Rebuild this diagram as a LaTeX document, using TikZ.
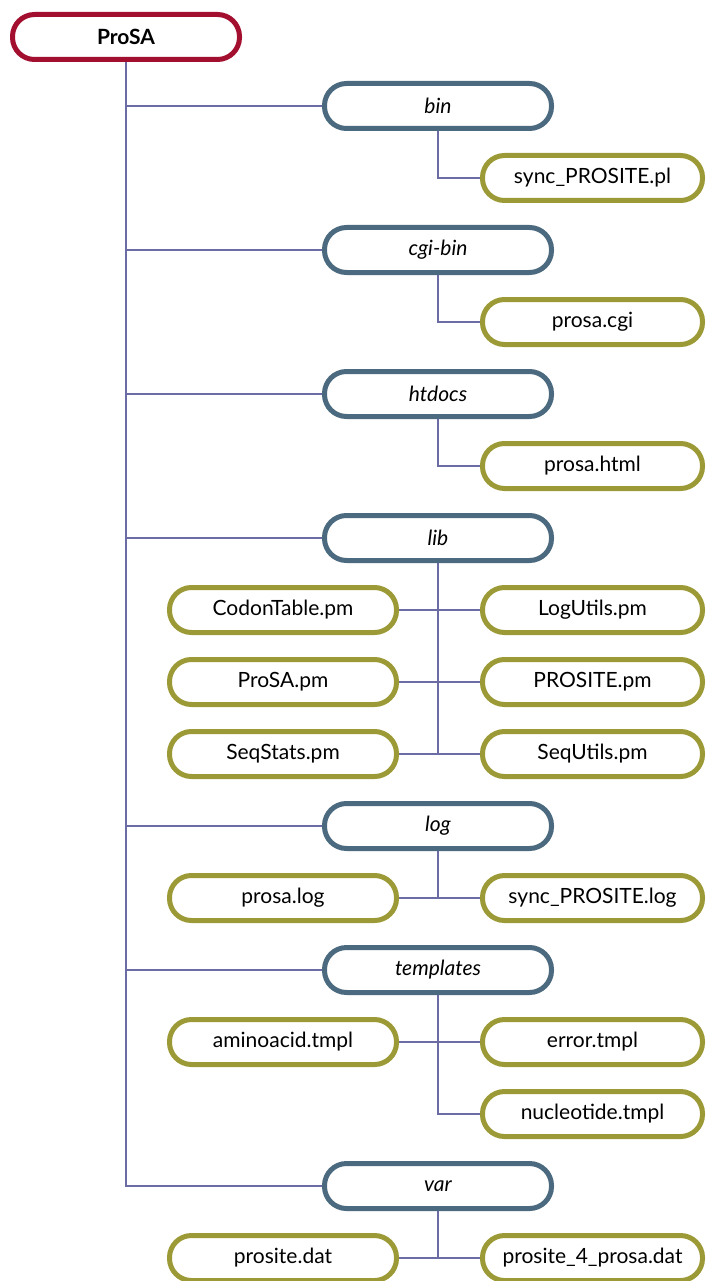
\documentclass[tikz,border=0pt]{standalone}
\usepackage{fontspec}
\setmainfont{Lato}
\usetikzlibrary{backgrounds}
\definecolor{rootc}{HTML}{A30F2F}
\definecolor{dirc}{HTML}{4B6A7F}
\definecolor{filec}{HTML}{9C9A36}
\definecolor{linec}{HTML}{6B6BA6}
\tikzset{
  pill/.style={draw, line width=5pt, fill=white, rounded corners=22pt,
    minimum width=227pt, minimum height=45pt, inner sep=0pt, font=\fontsize{21}{24}\selectfont},
  rootbox/.style={pill, draw=rootc, font=\fontsize{21}{24}\selectfont\bfseries},
  dirbox/.style={pill, draw=dirc, font=\fontsize{21}{24}\selectfont\itshape},
  filebox/.style={pill, draw=filec},
  rfilebox/.style={filebox, minimum width=220pt},
  conn/.style={draw=linec, line width=2pt}
}
\begin{document}
\begin{tikzpicture}[x=1pt,y=-1pt]
\useasboundingbox (0,0) rectangle (705,1281);
\node[rootbox] (prosa) at (126,37) {ProSA};
\node[dirbox] (bin) at (438,106) {bin};
\node[rfilebox] (sync) at (592.5,178) {sync\_PROSITE.pl};
\node[dirbox] (cgibin) at (438,250) {cgi-bin};
\node[rfilebox] (cgi) at (592.5,322) {prosa.cgi};
\node[dirbox] (htdocs) at (438,394) {htdocs};
\node[rfilebox] (html) at (592.5,466) {prosa.html};
\node[dirbox] (lib) at (438,538) {lib};
\node[filebox] (codon) at (283,610) {CodonTable.pm};
\node[rfilebox] (logutils) at (592.5,610) {LogUtils.pm};
\node[filebox] (prosapm) at (283,682) {ProSA.pm};
\node[rfilebox] (prositepm) at (592.5,682) {PROSITE.pm};
\node[filebox] (seqstats) at (283,754) {SeqStats.pm};
\node[rfilebox] (sequtils) at (592.5,754) {SeqUtils.pm};
\node[dirbox] (log) at (438,826) {log};
\node[filebox] (prosalog) at (283,898) {prosa.log};
\node[rfilebox] (synclog) at (592.5,898) {sync\_PROSITE.log};
\node[dirbox] (templates) at (438,970) {templates};
\node[filebox] (amino) at (283,1042) {aminoacid.tmpl};
\node[rfilebox] (error) at (592.5,1042) {error.tmpl};
\node[rfilebox] (nucleo) at (592.5,1114) {nucleotide.tmpl};
\node[dirbox] (var) at (438,1186) {var};
\node[filebox] (prositedat) at (283,1258) {prosite.dat};
\node[rfilebox] (prosite4) at (592.5,1258) {prosite\_4\_prosa.dat};
\begin{scope}[on background layer]
\draw[conn] (prosa.south) |- (var.west);
\foreach \d in {bin,cgibin,htdocs,lib,log,templates}
  \draw[conn] (prosa.south |- \d.west) -- (\d.west);
\draw[conn] (bin.south) |- (sync.west);
\draw[conn] (cgibin.south) |- (cgi.west);
\draw[conn] (htdocs.south) |- (html.west);
\draw[conn] (lib.south) -- (lib.south |- seqstats.east);
\draw[conn] (codon.east) -- (logutils.west);
\draw[conn] (prosapm.east) -- (prositepm.west);
\draw[conn] (seqstats.east) -- (sequtils.west);
\draw[conn] (log.south) -- (log.south |- prosalog.east);
\draw[conn] (prosalog.east) -- (synclog.west);
\draw[conn] (templates.south) |- (nucleo.west);
\draw[conn] (amino.east) -- (error.west);
\draw[conn] (var.south) -- (var.south |- prositedat.east);
\draw[conn] (prositedat.east) -- (prosite4.west);
\end{scope}
\end{tikzpicture}
\end{document}
